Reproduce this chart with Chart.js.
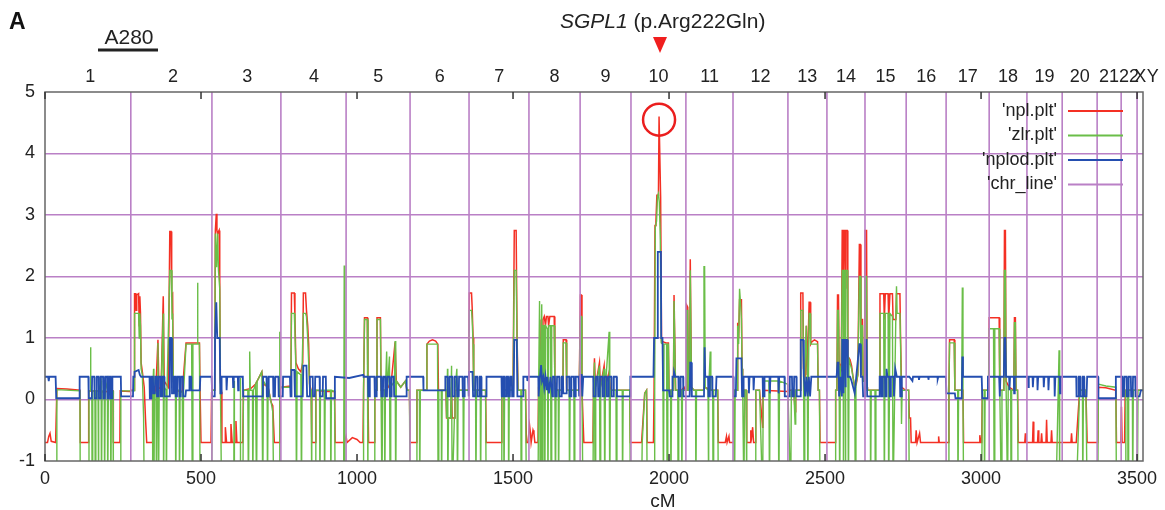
<!DOCTYPE html>
<html>
<head>
<meta charset="utf-8">
<script src="https://cdn.jsdelivr.net/npm/chart.js@4.4.1/dist/chart.umd.min.js"></script>
<style>
  body { margin: 0; background: #fff; }
  canvas { display: block; }
</style>
</head>
<body>
<canvas id="c" width="1165" height="510"></canvas>
<script>
// genome-wide linkage scan (cM, score)
const nplPoints = [
  [0,-0.7],[8,-0.7],[12,-0.6],[16,-0.55],[20,-0.68],[34,-0.7],[38,0.18],[70,0.17],[112,0.15],[113,-0.7],[139,-0.7],[140,0.14],[175,0.14],[178,0.12],[218,0.14],[219,-0.7],[240,-0.7],[241,0.14],[272,0.13],
  [276,0.15],[286,0.15],[287,1.72],[291,1.72],[292,1.45],[294,1.7],[300,1.72],[302,1.2],[304,1.68],[306,1.4],[308,0.6],[312,0.45],[318,0.2],[322,-0.3],[326,-0.7],[343,-0.7],[345,0.1],[355,0.13],[362,0.97],[365,0.2],[372,0.15],[379,1.68],[382,0.3],[395,0.2],[400,2.73],[404,2.73],[406,1.7],[409,1.72],[411,0.3],[420,0.15],[440,0.12],[452,0.92],[495,0.92],[497,0.15],[500,-0.7],[532,-0.7],[534,0.12],
  [536,0.15],[544,0.15],[546,2.75],[549,3.02],[551,2.75],[553,2.7],[558,2.75],[560,2.0],[562,0.3],[566,0.12],[567,-0.7],[577,-0.7],[578,-0.45],[582,-0.7],[595,-0.7],[596,-0.4],[600,-0.7],[611,-0.7],[612,-0.35],[615,-0.7],[634,-0.7],[636,0.15],[660,0.18],[675,0.25],[690,0.4],[695,0.45],[700,0.25],[715,0.2],[725,-0.05],[730,-0.1],[735,-0.7],[750,-0.7],[753,0.15],
  [757,0.2],[788,0.22],[790,1.73],[799,1.73],[801,1.35],[804,0.6],[812,0.5],[820,0.45],[826,0.6],[828,1.73],[835,1.73],[838,1.45],[842,1.2],[845,0.9],[848,0.25],[853,0.15],[855,-0.7],[866,-0.7],[868,0.15],[900,0.13],[928,0.13],[930,-0.7],
  [960,-0.7],[965,-0.6],[968,-0.7],[985,-0.62],[1000,-0.65],[1010,-0.7],[1019,-0.7],[1021,0.15],[1024,1.33],[1033,1.33],[1035,0.15],[1037,-0.7],[1055,-0.7],[1057,0.15],[1062,0.15],[1064,1.33],[1075,1.33],[1077,0.15],[1090,0.15],[1100,0.2],[1110,0.3],[1122,0.93],[1126,0.3],[1140,0.2],[1155,0.3],[1160,0.15],[1168,0.15],
  [1170,-0.7],[1190,-0.7],[1192,0.15],[1222,0.15],[1224,0.9],[1232,0.95],[1242,0.97],[1252,0.95],[1259,0.9],[1261,0.15],[1285,0.15],[1287,-0.3],[1300,-0.3],[1303,0.2],[1305,-0.3],[1312,-0.3],[1314,0.15],[1358,0.15],
  [1360,1.73],[1367,1.73],[1369,1.5],[1372,1.0],[1374,0.15],[1412,0.15],[1414,-0.7],[1462,-0.7],[1464,0.15],[1500,0.15],[1504,2.75],[1510,2.75],[1513,1.0],[1516,0.15],[1540,0.15],[1543,-0.7],[1548,-0.7],
  [1550,-0.7],[1553,-0.42],[1556,-0.55],[1558,-0.7],[1564,-0.5],[1567,-0.55],[1570,-0.7],[1580,-0.7],[1582,0.2],[1588,0.4],[1590,1.3],[1594,0.5],[1596,1.3],[1600,1.35],[1604,1.2],[1607,1.35],[1612,1.35],[1614,1.2],[1618,1.35],[1632,1.35],[1634,0.3],[1640,0.15],[1660,0.15],[1661,0.97],[1670,0.97],[1672,0.15],[1712,0.15],
  [1714,0.15],[1716,1.7],[1719,1.7],[1721,0.15],[1727,-0.7],[1756,-0.7],[1758,0.15],[1761,0.67],[1764,0.2],[1777,0.6],[1780,0.2],[1792,0.55],[1795,0.2],[1808,0.45],[1812,0.15],[1874,0.15],[1876,-0.7],
  [1912,-0.7],[1922,0.1],[1928,0.15],[1930,-0.7],[1950,-0.7],[1952,0.15],[1955,2.83],[1958,2.9],[1961,3.32],[1966,3.32],[1968,4.6],[1971,4.6],[1973,3.3],[1976,0.95],[1990,0.92],[1998,0.92],[2000,0.15],[2014,0.15],[2016,1.7],[2019,1.7],[2021,0.15],[2040,0.15],[2048,0.2],[2052,0.15],
  [2055,0.15],[2057,1.53],[2060,1.5],[2062,0.15],[2066,0.15],[2068,2.28],[2070,2.28],[2072,0.2],[2080,0.15],[2110,0.15],[2113,0.2],[2140,0.15],[2156,0.15],[2158,-0.7],[2180,-0.7],[2184,-0.6],[2186,-0.7],[2192,-0.6],[2194,-0.7],[2206,-0.7],
  [2208,0.15],[2218,0.15],[2220,1.25],[2223,1.0],[2226,1.62],[2232,1.62],[2234,0.5],[2236,0.15],[2247,0.15],[2249,-0.7],[2260,-0.7],[2262,-0.5],[2265,-0.6],[2268,-0.45],[2271,-0.7],[2276,-0.7],[2278,0.15],[2290,0.15],[2300,-0.45],[2301,0.15],[2380,0.13],
  [2381,0.15],[2400,0.15],[2404,-0.2],[2406,0.15],[2420,0.15],[2422,1.73],[2429,1.73],[2431,0.5],[2437,0.4],[2440,1.2],[2443,0.4],[2449,1.58],[2452,1.58],[2454,0.9],[2458,0.94],[2466,0.97],[2476,0.94],[2478,0.15],[2482,0.15],[2484,-0.7],[2532,-0.7],
  [2534,0.15],[2538,0.15],[2540,1.7],[2543,1.7],[2545,0.6],[2552,0.5],[2555,2.75],[2558,2.75],[2559,1.5],[2561,2.75],[2564,2.75],[2565,1.8],[2567,2.75],[2571,2.75],[2573,0.7],[2580,0.65],[2585,0.55],[2590,0.35],[2595,0.2],[2600,0.25],[2605,0.4],[2610,2.52],[2613,2.52],[2615,0.4],[2617,1.3],[2620,1.3],[2622,0.3],[2626,0.3],[2628,2.75],[2633,2.75],[2635,0.2],
  [2636,0.15],[2674,0.15],[2676,1.72],[2688,1.72],[2690,1.3],[2693,1.72],[2702,1.72],[2704,1.3],[2708,1.72],[2716,1.72],[2718,1.3],[2727,1.3],[2729,1.72],[2740,1.72],[2742,1.0],[2745,0.2],[2758,0.15],
  [2760,0.15],[2768,0.15],[2770,-0.3],[2774,-0.3],[2776,-0.7],[2790,-0.7],[2792,-0.5],[2795,-0.7],[2803,-0.55],[2806,-0.7],[2862,-0.7],[2864,-0.6],[2866,-0.7],[2894,-0.7],
  [2896,-0.7],[2897,0.15],[2899,0.97],[2914,0.97],[2916,0.15],[2942,0.15],[2944,-0.7],[2994,-0.7],[2996,-0.58],[2999,-0.7],[3002,-0.7],[3004,0.15],[3022,0.15],
  [3024,0.15],[3026,1.33],[3058,1.33],[3060,0.15],[3073,0.15],[3075,2.75],[3078,2.75],[3080,0.3],[3090,0.2],[3105,0.15],[3107,1.33],[3110,1.33],[3112,0.15],[3117,0.15],[3119,-0.7],
  [3140,-0.7],[3142,-0.55],[3144,-0.7],[3165,-0.7],[3167,-0.36],[3169,-0.7],[3181,-0.7],[3183,-0.5],[3185,-0.7],[3192,-0.7],[3194,-0.55],[3196,-0.7],[3208,-0.7],[3210,-0.33],[3212,-0.7],[3224,-0.7],[3226,-0.5],[3228,-0.7],[3256,-0.7],
  [3258,-0.7],[3288,-0.7],[3290,-0.55],[3292,-0.7],[3305,-0.7],[3316,0.15],[3336,0.15],[3340,-0.7],[3374,-0.7],
  [3376,0.2],[3400,0.19],[3432,0.15],[3434,-0.7],[3448,-0.7],[3450,-0.12],[3452,-0.7],[3460,-0.7],[3462,0.15],[3519,0.15]
];

const zlrPoints = [
  [0,-1.6],[36,-1.6],[38,0.16],[112,0.14],[113,-1.6],[139,-1.6],[141,0.14],[145,0.14],[146,0.85],[147,0.14],[150,0.14],[151,-1.6],[153,0.14],[160,0.14],[161,-1.6],[163,0.14],[170,0.14],[171,-1.6],[173,0.14],[180,0.3],[181,-1.6],[183,0.14],[190,0.14],[191,-1.6],[193,0.14],[200,0.3],[201,-1.6],[203,0.14],[210,0.14],[211,-1.6],[213,0.14],[218,0.14],[219,-1.6],[241,-1.6],[243,0.14],[272,0.14],
  [276,0.14],[286,0.14],[287,1.4],[300,1.4],[302,1.0],[304,1.4],[306,1.2],[308,0.5],[312,0.4],[316,-0.3],[318,-1.6],[343,-1.6],[345,0.1],[348,0.5],[349,-1.6],[351,0.12],[356,0.12],[357,-1.6],[359,0.12],[362,0.92],[364,-1.6],[366,0.15],[372,0.15],[379,1.4],[380,-1.6],[382,0.2],[388,0.15],[389,-1.6],[391,0.15],[400,2.1],[405,2.1],[407,1.3],[409,1.4],[411,0.3],[418,0.15],[419,-1.6],[421,0.15],[430,0.15],[431,-1.6],[433,0.15],[440,0.12],[442,-1.6],[444,0.12],[452,0.9],[470,0.9],[472,-1.6],[474,0.9],[488,0.9],[489,1.9],[490,0.9],[495,0.9],[497,-1.6],[534,-1.6],
  [536,0.15],[544,0.15],[546,2.7],[548,2.7],[550,2.15],[553,2.7],[556,2.1],[560,1.8],[562,0.3],[566,-1.6],[605,-1.6],[606,0.3],[607,-1.6],[625,-1.6],[626,0.35],[627,-1.6],[634,-1.6],[636,0.15],[650,0.15],[652,-1.6],[654,0.15],[656,0.78],[658,0.15],[665,0.15],[666,-1.6],[668,0.15],[675,0.25],[678,-1.6],[680,0.3],[690,0.4],[695,0.45],[698,-1.6],[700,0.3],[712,0.2],[713,-1.6],[715,0.2],[725,-0.05],[730,-0.2],[733,-1.6],[751,-1.6],[752,1.1],[753,0.2],
  [756,0.2],[788,0.2],[790,1.4],[799,1.4],[801,1.1],[804,0.5],[806,-1.6],[808,0.45],[820,0.4],[822,-1.6],[824,0.5],[828,1.4],[835,1.4],[838,1.35],[842,1.0],[845,0.6],[848,0.2],[853,0.15],[855,-1.6],[866,-1.6],[868,0.15],[880,0.15],[881,-1.6],[883,0.15],[895,0.15],[896,-1.6],[898,0.15],[915,0.15],[916,-1.6],[918,0.15],[928,0.13],[930,-1.6],[957,-1.6],[959,2.18],[961,-1.6],[1020,-1.6],
  [1021,0.15],[1024,1.3],[1033,1.3],[1035,-1.6],[1055,-1.6],[1057,0.15],[1062,0.15],[1064,1.3],[1075,1.3],[1077,0.15],[1080,-1.6],[1082,0.15],[1088,0.15],[1089,-1.6],[1091,0.15],[1095,0.78],[1097,0.15],[1104,0.7],[1106,-1.6],[1108,0.2],[1120,0.3],[1122,0.95],[1124,-1.6],[1126,0.3],[1140,0.2],[1155,0.3],[1160,0.15],[1168,0.15],
  [1169,0.15],[1170,-1.6],[1190,-1.6],[1192,0.15],[1200,0.15],[1201,-1.6],[1203,0.15],[1222,0.15],[1224,0.9],[1258,0.9],[1260,-1.6],[1262,0.15],[1270,0.15],[1271,-1.6],[1273,0.15],[1285,0.15],[1287,-0.3],[1290,0.5],[1291,-1.6],[1293,-0.3],[1300,-0.3],[1303,0.55],[1305,-1.6],[1312,-0.3],[1314,0.15],[1320,0.5],[1322,-1.6],[1324,0.15],[1340,0.15],[1341,-1.6],[1343,0.15],[1358,0.15],
  [1360,1.45],[1367,1.45],[1369,1.3],[1372,0.9],[1374,0.15],[1380,0.15],[1381,-1.6],[1383,0.15],[1395,0.15],[1396,-1.6],[1398,0.15],[1412,0.15],[1414,-1.6],[1462,-1.6],[1464,0.15],[1470,0.15],[1471,-1.6],[1473,0.15],[1485,0.15],[1486,-1.6],[1488,0.15],[1500,0.15],[1504,2.1],[1510,2.1],[1513,0.9],[1516,0.15],[1525,0.15],[1526,-1.6],[1528,0.15],[1540,0.15],[1543,-1.6],
  [1580,-1.6],[1582,0.2],[1585,1.6],[1587,-1.6],[1589,0.4],[1592,1.55],[1594,-1.6],[1596,1.2],[1600,1.2],[1602,-1.6],[1604,1.2],[1610,1.15],[1612,-1.6],[1614,1.2],[1620,1.2],[1622,-1.6],[1624,1.2],[1632,1.2],[1634,0.3],[1636,-1.6],[1638,0.15],[1645,0.15],[1646,-1.6],[1648,0.15],[1660,0.15],[1661,0.92],[1670,0.92],[1672,0.15],[1680,0.15],[1681,-1.6],[1683,0.15],[1695,0.15],[1696,-1.6],[1698,0.15],[1712,0.15],
  [1714,0.15],[1716,1.35],[1719,1.35],[1721,0.15],[1724,-1.6],[1756,-1.6],[1758,0.15],[1761,0.6],[1763,-1.6],[1765,0.2],[1777,0.55],[1779,-1.6],[1781,0.2],[1792,0.5],[1794,-1.6],[1796,0.2],[1808,1.1],[1810,-1.6],[1812,0.15],[1830,0.15],[1831,-1.6],[1833,0.15],[1850,0.15],[1851,-1.6],[1853,0.15],[1874,0.15],[1876,-1.6],
  [1912,-1.6],[1914,-0.7],[1922,0.1],[1928,0.15],[1930,-1.6],[1952,-1.6],[1954,0.15],[1956,2.8],[1960,2.9],[1963,3.3],[1966,3.35],[1969,3.2],[1972,2.6],[1975,0.92],[1980,0.9],[1982,-1.6],[1984,0.9],[1992,0.9],[1994,-1.6],[1996,0.9],[1998,0.9],[2000,0.15],[2005,0.15],[2006,-1.6],[2008,0.15],[2014,0.15],[2016,1.6],[2019,1.6],[2021,0.15],[2028,0.15],[2029,-1.6],[2031,0.15],[2040,0.15],[2041,-1.6],[2043,0.15],[2052,0.15],
  [2055,0.15],[2057,1.45],[2060,1.45],[2062,0.15],[2066,0.15],[2068,2.1],[2070,2.1],[2072,0.2],[2080,0.15],[2085,0.15],[2086,-1.6],[2088,0.15],[2110,0.15],[2112,2.16],[2114,2.16],[2116,0.2],[2125,0.15],[2126,-1.6],[2128,0.15],[2132,0.78],[2134,0.15],[2140,0.15],[2141,-1.6],[2143,0.15],[2156,0.15],[2158,-1.6],[2206,-1.6],
  [2208,0.15],[2210,-1.6],[2212,0.15],[2218,0.15],[2220,1.2],[2223,0.9],[2226,1.8],[2230,1.5],[2232,1.3],[2234,0.5],[2236,0.15],[2240,-1.6],[2242,0.15],[2247,0.15],[2249,-1.6],[2276,-1.6],[2278,0.15],[2290,0.15],[2300,-1.6],[2302,0.3],[2320,0.3],[2322,-1.6],[2324,0.3],[2350,0.3],[2352,-1.6],[2354,0.3],[2380,0.25],
  [2381,0.15],[2390,-1.6],[2392,0.15],[2400,0.15],[2404,-0.4],[2406,0.15],[2420,0.15],[2422,1.45],[2429,1.45],[2431,0.5],[2433,-1.6],[2435,0.4],[2440,1.2],[2443,0.4],[2445,-1.6],[2447,0.5],[2449,1.4],[2452,1.4],[2454,0.9],[2476,0.9],[2478,0.15],[2482,0.15],[2484,-1.6],[2532,-1.6],
  [2534,0.15],[2538,0.15],[2540,1.45],[2543,1.45],[2545,0.55],[2547,-1.6],[2549,0.5],[2552,0.5],[2555,2.1],[2558,2.1],[2559,-1.6],[2561,2.1],[2564,2.1],[2565,-1.6],[2567,2.1],[2571,2.1],[2573,0.65],[2575,-1.6],[2577,0.65],[2585,0.5],[2590,0.35],[2595,0.2],[2597,-1.6],[2599,0.25],[2605,0.4],[2610,2.0],[2613,2.0],[2615,0.4],[2617,1.2],[2620,1.2],[2622,0.3],[2626,0.3],[2628,2.0],[2633,2.0],[2635,0.2],
  [2636,0.15],[2645,0.15],[2646,-1.6],[2648,0.15],[2660,0.15],[2661,-1.6],[2663,0.15],[2674,0.15],[2676,1.4],[2688,1.4],[2690,-1.6],[2693,1.4],[2702,1.4],[2704,-1.6],[2708,1.4],[2716,1.35],[2718,-1.6],[2727,1.4],[2729,1.84],[2731,1.4],[2740,1.4],[2742,0.9],[2744,0.2],[2745,-0.4],[2747,0.15],[2758,0.15],
  [2760,0.15],[2768,0.15],[2770,-1.6],[2894,-1.6],
  [2896,-1.6],[2897,0.15],[2899,0.92],[2914,0.92],[2916,0.15],[2925,0.15],[2926,-1.6],[2928,0.15],[2938,0.15],[2940,1.82],[2942,0.15],[2944,-1.6],[3002,-1.6],[3004,0.15],[3010,0.15],[3011,-1.6],[3013,0.15],[3022,0.15],
  [3024,0.15],[3026,1.15],[3040,1.15],[3042,-1.6],[3044,1.15],[3058,1.15],[3060,0.15],[3065,-1.6],[3067,0.15],[3073,0.15],[3075,2.1],[3078,2.1],[3080,0.3],[3085,-1.6],[3087,0.2],[3095,0.15],[3096,-1.6],[3098,0.15],[3105,0.15],[3107,1.25],[3110,1.25],[3112,0.15],[3117,0.15],[3119,-1.6],
  [3240,-1.6],[3250,0.8],[3252,-1.6],[3305,-1.6],[3316,0.15],[3325,0.15],[3326,-1.6],[3328,0.15],[3336,0.15],[3340,-1.6],[3374,-1.6],
  [3376,0.25],[3400,0.22],[3432,0.2],[3434,-1.6],[3462,-1.6],[3464,0.15],[3470,0.15],[3471,-1.6],[3473,0.15],[3485,0.15],[3486,-1.6],[3488,0.15],[3500,0.15],[3501,-1.6],[3503,0.15],[3519,0.15]
];

const nplodPoints = [
  [0,0.37],[10,0.37],[12,0.3],[14,0.37],[34,0.37],[36,0.02],[110,0.02],[111,0.37],[139,0.37],[140,0.02],[150,0.02],[151,0.37],[158,0.37],[159,0.02],[165,0.02],[166,0.37],[172,0.37],[173,0.02],[178,0.02],[179,0.37],[186,0.37],[187,0.02],[192,0.02],[193,0.37],[199,0.37],[200,0.02],[204,0.02],[205,0.37],[210,0.37],[211,0.02],[215,0.02],[216,0.37],[243,0.37],[244,0.05],[275,0.05],
  [277,0.05],[282,0.05],[283,0.37],[286,0.37],[287,0.45],[300,0.48],[304,0.4],[308,0.37],[335,0.37],[336,0.02],[340,0.02],[341,0.37],[346,0.37],[347,0.1],[352,0.1],[353,0.37],[358,0.37],[359,0.05],[363,0.05],[364,0.37],[370,0.37],[371,0.05],[375,0.05],[376,0.37],[382,0.37],[383,0.05],[398,0.05],[400,1.0],[405,1.0],[407,0.1],[412,0.1],[413,0.37],[418,0.37],[419,0.05],[423,0.05],[424,0.37],[430,0.37],[431,0.05],[435,0.05],[436,0.37],[442,0.37],[443,0.05],[450,0.05],[452,0.15],[462,0.15],[463,0.37],[468,0.37],[469,0.15],[496,0.15],[498,0.37],[534,0.37],
  [536,0.05],[544,0.05],[545,1.0],[548,1.0],[549,1.58],[551,1.58],[552,1.0],[560,1.0],[562,0.1],[565,0.1],[566,0.37],[581,0.37],[582,0.15],[584,0.37],[602,0.37],[603,0.2],[605,0.37],[618,0.37],[619,0.15],[621,0.37],[634,0.37],[635,0.05],[698,0.05],[699,0.37],[710,0.37],[711,0.05],[716,0.05],[717,0.37],[731,0.37],[732,0.05],[737,0.05],[738,0.37],[748,0.37],[749,0.05],[756,0.05],
  [757,0.05],[762,0.05],[763,0.37],[785,0.37],[787,0.05],[789,0.05],[790,0.48],[799,0.48],[801,0.05],[826,0.05],[828,0.55],[838,0.55],[840,0.05],[848,0.05],[849,0.37],[858,0.37],[859,0.05],[865,0.05],[866,0.37],[880,0.37],[881,0.05],[890,0.05],[891,0.37],[900,0.37],[901,0.02],[928,0.02],[929,0.37],[975,0.35],[1020,0.4],
  [1021,0.37],[1035,0.37],[1036,0.05],[1040,0.05],[1041,0.37],[1056,0.37],[1057,0.05],[1062,0.05],[1063,0.37],[1077,0.37],[1078,0.05],[1083,0.05],[1084,0.37],[1090,0.37],[1091,0.05],[1096,0.05],[1097,0.37],[1104,0.37],[1105,0.05],[1110,0.05],[1111,0.37],[1118,0.37],[1119,0.05],[1158,0.05],[1159,0.37],[1212,0.37],[1213,0.15],
  [1262,0.15],[1282,0.15],[1283,0.37],[1290,0.37],[1291,0.05],[1296,0.05],[1297,0.37],[1305,0.37],[1306,0.05],[1312,0.05],[1313,0.37],[1320,0.37],[1321,0.05],[1326,0.05],[1327,0.37],[1338,0.37],[1339,0.05],[1344,0.05],[1345,0.37],[1356,0.37],[1358,0.05],
  [1359,0.45],[1370,0.45],[1372,0.05],[1378,0.05],[1379,0.37],[1385,0.37],[1386,0.05],[1392,0.05],[1393,0.37],[1398,0.37],[1399,0.05],[1414,0.05],[1415,0.37],[1463,0.37],[1464,0.05],[1468,0.05],[1469,0.37],[1472,0.37],[1473,0.05],[1478,0.05],[1479,0.37],[1484,0.37],[1485,0.05],[1490,0.05],[1491,0.37],[1496,0.37],[1497,0.05],[1502,0.05],[1504,0.97],[1512,0.97],[1514,0.05],[1532,0.05],[1533,0.37],[1545,0.37],[1546,0.3],[1548,0.37],[1581,0.37],
  [1582,0.05],[1585,0.3],[1590,0.56],[1593,0.3],[1597,0.37],[1600,0.2],[1604,0.37],[1608,0.15],[1610,0.37],[1615,0.1],[1620,0.37],[1626,0.05],[1628,0.37],[1634,0.37],[1635,0.05],[1640,0.05],[1641,0.37],[1648,0.37],[1649,0.05],[1655,0.05],[1656,0.37],[1660,0.37],[1661,0.1],[1670,0.1],[1672,0.37],[1680,0.37],[1681,0.05],[1686,0.05],[1687,0.37],[1695,0.37],[1696,0.05],[1700,0.05],[1701,0.37],[1710,0.37],[1712,0.05],
  [1714,0.05],[1716,0.4],[1720,0.4],[1722,0.05],[1725,0.37],[1757,0.37],[1758,0.05],[1765,0.05],[1766,0.37],[1772,0.37],[1773,0.05],[1778,0.05],[1779,0.37],[1786,0.37],[1787,0.05],[1792,0.05],[1793,0.37],[1800,0.37],[1801,0.05],[1806,0.05],[1807,0.37],[1815,0.37],[1816,0.05],[1822,0.05],[1823,0.37],[1832,0.37],[1833,0.05],[1875,0.05],
  [1876,0.37],[1950,0.37],[1952,1.0],[1963,1.0],[1964,2.4],[1974,2.4],[1975,1.0],[1979,1.0],[1981,0.15],[2000,0.15],[2002,0.05],[2010,0.05],[2011,0.37],[2015,0.37],[2016,0.45],[2019,0.45],[2020,0.37],[2030,0.37],[2031,0.05],[2036,0.05],[2037,0.37],[2045,0.37],[2046,0.05],[2053,0.05],
  [2055,0.05],[2066,0.05],[2068,0.6],[2071,0.6],[2073,0.05],[2112,0.05],[2114,0.85],[2116,0.37],[2125,0.37],[2126,0.05],[2130,0.05],[2131,0.37],[2138,0.37],[2139,0.05],[2150,0.05],[2152,0.37],[2206,0.37],
  [2207,0.05],[2214,0.05],[2216,0.67],[2232,0.67],[2234,0.05],[2238,0.05],[2239,0.37],[2255,0.37],[2256,0.1],[2258,0.37],[2270,0.37],[2271,0.15],[2273,0.37],[2300,0.37],[2301,0.05],[2305,0.05],[2306,0.37],[2322,0.37],[2323,0.1],[2325,0.37],[2350,0.37],[2351,0.1],[2353,0.37],[2370,0.37],[2371,0.05],[2380,0.05],
  [2381,0.05],[2386,0.05],[2387,0.37],[2394,0.37],[2395,0.05],[2400,0.05],[2401,0.37],[2408,0.37],[2409,0.05],[2420,0.05],[2422,0.97],[2430,0.97],[2432,0.37],[2436,0.05],[2440,0.37],[2444,0.05],[2448,0.37],[2452,0.05],[2456,0.37],[2482,0.37],[2537,0.37],
  [2538,0.37],[2540,0.6],[2543,0.6],[2545,0.05],[2550,0.37],[2554,0.05],[2555,0.97],[2558,0.97],[2559,0.1],[2561,0.97],[2564,0.97],[2565,0.2],[2567,0.97],[2571,0.97],[2573,0.37],[2580,0.37],[2585,0.3],[2595,0.1],[2600,0.37],[2610,0.9],[2613,0.9],[2615,0.37],[2620,0.37],[2622,0.05],[2627,0.05],[2628,0.97],[2633,0.97],[2635,0.05],
  [2636,0.05],[2674,0.05],[2675,0.37],[2680,0.37],[2681,0.05],[2684,0.05],[2685,0.37],[2692,0.37],[2693,0.05],[2696,0.05],[2697,0.5],[2700,0.37],[2706,0.37],[2707,0.05],[2710,0.05],[2711,0.37],[2720,0.37],[2721,0.05],[2724,0.05],[2725,0.5],[2730,0.37],[2740,0.37],[2741,0.05],[2745,0.05],[2746,0.37],[2760,0.37],
  [2770,0.37],[2780,0.3],[2782,0.37],[2800,0.37],[2801,0.32],[2803,0.37],[2830,0.37],[2831,0.32],[2833,0.37],[2860,0.37],[2861,0.33],[2863,0.37],[2887,0.37],[2889,0.1],[2896,0.1],
  [2897,0.1],[2916,0.1],[2918,0.02],[2938,0.02],[2940,0.7],[2942,0.37],[3002,0.37],[3004,0.02],[3020,0.02],[3022,0.37],
  [3058,0.37],[3060,0.05],[3062,0.37],[3073,0.37],[3075,1.0],[3078,1.0],[3080,0.37],[3090,0.37],[3091,0.15],[3093,0.37],[3105,0.37],[3106,0.1],[3108,0.37],[3120,0.37],[3140,0.37],
  [3150,0.37],[3151,0.2],[3153,0.37],[3165,0.37],[3166,0.2],[3168,0.37],[3180,0.37],[3181,0.15],[3183,0.37],[3200,0.37],[3201,0.2],[3203,0.37],[3215,0.37],[3216,0.15],[3218,0.37],[3235,0.37],[3236,0.05],[3238,0.37],[3252,0.37],[3253,0.1],[3255,0.37],[3305,0.37],
  [3306,0.05],[3312,0.05],[3313,0.37],[3318,0.37],[3319,0.05],[3325,0.05],[3326,0.37],[3330,0.37],[3331,0.05],[3338,0.05],[3340,0.37],[3375,0.37],
  [3376,0.02],[3430,0.02],[3432,0.37],[3452,0.37],[3453,0.05],[3458,0.05],[3459,0.37],[3466,0.37],[3467,0.05],[3472,0.05],[3473,0.37],[3480,0.37],[3481,0.05],[3486,0.05],[3487,0.37],[3494,0.37],[3495,0.05],[3508,0.05],[3512,0.15],[3519,0.15]
];

// chromosome boundaries (cM) and label positions on the top axis
const chrBounds = [275, 535, 756, 965, 1170, 1359, 1551, 1715, 1878, 2054, 2205, 2381, 2506, 2628, 2760, 2888, 3026, 3147, 3260, 3372, 3449, 3500];
const chrNames = ['1','2','3','4','5','6','7','8','9','10','11','12','13','14','15','16','17','18','19','20','21','22','X','Y'];
const chrLabelPos = [145, 410, 648, 862, 1068, 1265, 1456, 1633, 1796, 1966, 2130, 2293, 2443, 2567, 2694, 2824, 2957, 3086, 3203, 3316, 3410, 3474, 3510, 3550];
const xTickValues = [0, 500, 1000, 1500, 2000, 2500, 3000, 3500];
const peakMark = { cM: 1968, value: 4.55 };

const FONT = '"Liberation Sans", Arial, sans-serif';
const RED = 'rgb(244,48,36)';
const GREEN = 'rgb(106,190,72)';
const BLUE = 'rgb(36,78,176)';
const PURPLE = 'rgb(186,128,198)';

const toXY = pts => pts.map(([x, y]) => ({ x: x, y: y }));

const chrLineData = [];
chrBounds.forEach(b => {
    chrLineData.push({ x: b, y: -1 }, { x: b, y: 5 }, { x: b, y: null });
});

const overlay = {
    id: 'overlay',
    afterDatasetsDraw(chart) {
        const { ctx, chartArea: a, scales: { x, y } } = chart;
        ctx.save();

        // plot frame
        ctx.strokeStyle = '#666';
        ctx.lineWidth = 1.5;
        ctx.strokeRect(a.left, a.top, a.right - a.left, a.bottom - a.top);

        // inward tick marks, bottom and mirrored on top
        ctx.strokeStyle = '#333';
        ctx.lineWidth = 1.5;
        xTickValues.forEach(v => {
            const px = x.getPixelForValue(v);
            ctx.beginPath();
            ctx.moveTo(px, a.bottom); ctx.lineTo(px, a.bottom - 7);
            ctx.moveTo(px, a.top); ctx.lineTo(px, a.top + 7);
            ctx.stroke();
        });

        // circle round the top peak
        ctx.strokeStyle = 'rgb(235,30,30)';
        ctx.lineWidth = 2.5;
        ctx.beginPath();
        ctx.arc(x.getPixelForValue(peakMark.cM), y.getPixelForValue(peakMark.value), 16, 0, Math.PI * 2);
        ctx.stroke();

        // key, inside the plot at top right
        const keys = [['\'npl.plt\'', RED], ['\'zlr.plt\'', GREEN], ['\'nplod.plt\'', BLUE], ['\'chr_line\'', PURPLE]];
        ctx.font = '18px ' + FONT;
        ctx.textAlign = 'right';
        ctx.textBaseline = 'middle';
        keys.forEach((k, i) => {
            const ky = 111 + i * 24.5;
            ctx.fillStyle = '#222';
            ctx.fillText(k[0], 1057, ky);
            ctx.strokeStyle = k[1];
            ctx.lineWidth = 1.8;
            ctx.beginPath();
            ctx.moveTo(1068, ky); ctx.lineTo(1123, ky);
            ctx.stroke();
        });
        ctx.restore();
    },
    afterDraw(chart) {
        const { ctx, scales: { x } } = chart;
        ctx.save();
        ctx.fillStyle = '#222';

        // chromosome numbers on top
        ctx.font = '18px ' + FONT;
        ctx.textAlign = 'center';
        ctx.textBaseline = 'alphabetic';
        chrNames.forEach((n, i) => {
            ctx.fillText(n, x.getPixelForValue(chrLabelPos[i]), 82);
        });

        // x axis title
        ctx.font = '19px ' + FONT;
        ctx.fillText('cM', 663, 507);

        // panel letter
        ctx.textAlign = 'left';
        ctx.font = 'bold 23px ' + FONT;
        ctx.fillStyle = '#111';
        ctx.fillText('A', 9, 29);

        // sample id with underline
        ctx.fillStyle = '#222';
        ctx.font = '21px ' + FONT;
        ctx.textAlign = 'center';
        ctx.fillText('A280', 129, 44);
        ctx.fillRect(98, 48.5, 60, 3);

        // gene label
        ctx.textAlign = 'left';
        ctx.font = 'italic 21px ' + FONT;
        const gx = 560;
        ctx.fillText('SGPL1', gx, 28);
        const w = ctx.measureText('SGPL1').width;
        ctx.font = '21px ' + FONT;
        ctx.fillText(' (p.Arg222Gln)', gx + w, 28);

        // marker triangle
        ctx.fillStyle = 'rgb(240,30,30)';
        ctx.beginPath();
        ctx.moveTo(653, 37); ctx.lineTo(667, 37); ctx.lineTo(660, 53);
        ctx.closePath();
        ctx.fill();
        ctx.restore();
    }
};

new Chart(document.getElementById('c'), {
    type: 'line',
    data: {
        datasets: [
            { label: 'chr_line', data: chrLineData, borderColor: PURPLE, borderWidth: 1.6, spanGaps: false, order: 0 },
            { label: 'nplod.plt', data: toXY(nplodPoints), borderColor: BLUE, borderWidth: 1.8, order: 1 },
            { label: 'zlr.plt', data: toXY(zlrPoints), borderColor: GREEN, borderWidth: 1.4, order: 2 },
            { label: 'npl.plt', data: toXY(nplPoints), borderColor: RED, borderWidth: 1.5, order: 3 }
        ]
    },
    options: {
        responsive: false,
        animation: false,
        devicePixelRatio: 1,
        events: [],
        layout: { padding: { top: 92, right: 22, left: 0, bottom: 0 } },
        elements: { point: { radius: 0 }, line: { tension: 0, borderJoinStyle: 'miter' } },
        plugins: { legend: { display: false }, tooltip: { enabled: false } },
        scales: {
            x: {
                type: 'linear',
                min: 0,
                max: 3519,
                grid: { display: false, drawTicks: false },
                border: { display: false },
                afterBuildTicks: s => { s.ticks = xTickValues.map(v => ({ value: v })); },
                afterFit: s => { s.height = 49; },
                ticks: {
                    autoSkip: false, maxRotation: 0, padding: 7, color: '#222',
                    font: { family: FONT, size: 18 },
                    callback: v => String(v)
                }
            },
            y: {
                min: -1,
                max: 5,
                afterFit: s => { s.width = 45; },
                grid: {
                    drawTicks: false,
                    lineWidth: 1.6,
                    color: c => (c.tick.value === 5 || c.tick.value === -1) ? 'rgba(0,0,0,0)' : PURPLE
                },
                border: { display: false },
                ticks: { stepSize: 1, padding: 10, color: '#222', font: { family: FONT, size: 18 } }
            }
        }
    },
    plugins: [overlay]
});
</script>
</body>
</html>
